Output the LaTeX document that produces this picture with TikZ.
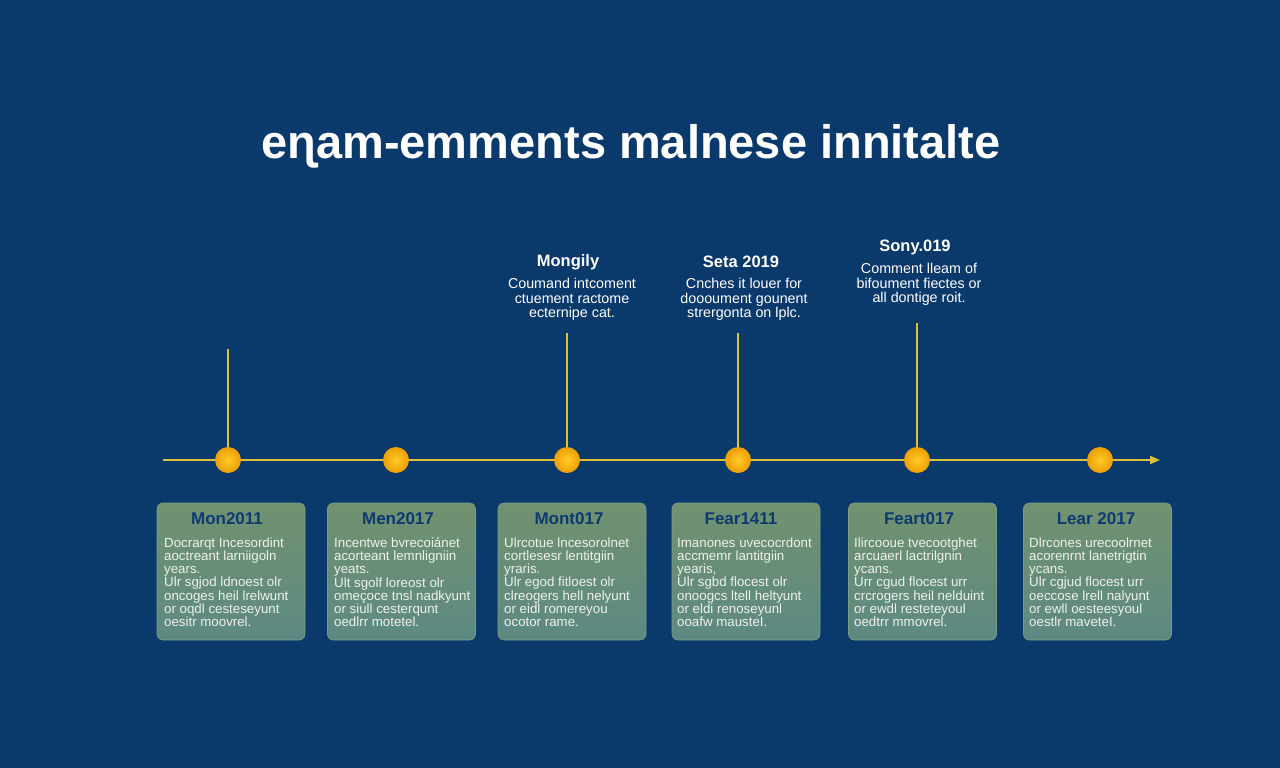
\documentclass[tikz,border=0pt]{standalone}
\usepackage{fontspec}
\setmainfont{Liberation Sans}
\usetikzlibrary{arrows.meta}
\definecolor{bg}{HTML}{0A396C}
\definecolor{tl}{HTML}{DCC23A}
\definecolor{boxtop}{HTML}{72926F}
\definecolor{boxbot}{HTML}{5D8983}
\definecolor{boxedge}{HTML}{7E9E84}
\definecolor{boxtitle}{HTML}{0C3A70}
\definecolor{boxtext}{HTML}{EEF2EC}
\definecolor{dotin}{HTML}{FFCB2A}
\definecolor{dotout}{HTML}{EE9E00}
\tikzset{
  tline/.style={draw=tl, line width=1.8pt},
  vline/.style={draw=tl, line width=1.3pt},
  tdot/.style={circle, minimum size=26pt, inner sep=0pt, inner color=dotin, outer color=dotout},
  card/.style={rectangle, rounded corners=6pt, minimum width=148pt, minimum height=137pt, inner sep=0pt,
     top color=boxtop, bottom color=boxbot, draw=boxedge, line width=0.6pt},
  cardtitle/.style={font=\fontsize{17}{19}\selectfont\bfseries, text=boxtitle, inner sep=0pt},
  cardbody/.style={font=\fontsize{13.3}{13.2}\selectfont, text=boxtext, align=left, inner sep=0pt, anchor=north west},
  ltitle/.style={font=\fontsize{16.5}{18}\selectfont\bfseries, text=white, inner sep=0pt},
  lbody/.style={font=\fontsize{14.3}{14.6}\selectfont, text=white, align=center, inner sep=0pt, anchor=north},
}
\begin{document}
\begin{tikzpicture}[x=1pt, y=-1pt]
\fill[bg] (0,0) rectangle (1280,768);
\useasboundingbox (0,0) rectangle (1280,768);

\node[font=\fontsize{47}{50}\selectfont\bfseries, text=white, inner sep=0pt] (title) at (631,146) {eɳam-emments malnese innitalte};

% timeline
\coordinate (ls) at (163,460);
\coordinate (le) at (1160,460);
\coordinate (c1) at (228,460);
\coordinate (c2) at (396,460);
\coordinate (c3) at (567,460);
\coordinate (c4) at (738,460);
\coordinate (c5) at (917,460);
\coordinate (c6) at (1100,460);
\coordinate (v1) at (228,349);
\coordinate (v3) at (567,333);
\coordinate (v4) at (738,333);
\coordinate (v5) at (917,323);

\draw[tline, -{Triangle[length=10pt,width=8pt]}] (ls) -- (le);
\draw[vline] (v1) -- (c1);
\draw[vline] (v3) -- (c3);
\draw[vline] (v4) -- (c4);
\draw[vline] (v5) -- (c5);

\foreach \i in {1,...,6} { \node[tdot] (d\i) at (c\i) {}; }

% top labels
\node[ltitle] (h3) at (568,262) {Mongily};
\node[lbody] (b3) at (572,278) {Coumand intcoment\\ctuement ractome\\ecternipe cat.};
\node[ltitle] (h4) at (741,262) {Seta 2019};
\node[lbody] (b4) at (744,278) {Cnches it louer for\\doooument gounent\\strergonta on lplc.};
\node[ltitle] (h5) at (915,247) {Sony.019};
\node[lbody] (b5) at (919,263) {Comment lleam of\\bifoument fiectes or\\all dontige roit.};

% cards
\node[card] (k1) at (231,571.5) {};
\node[cardtitle] (t1) at (227,519) {Mon2011};
\node[cardbody] (p1) at (164,537.5) {Docrarqt Incesordint\\aoctreant larniigoln\\years.\\Ulr sgjod ldnoest olr\\oncoges heil lrelwunt\\or oqdl cesteseyunt\\oesitr moovrel.};

\node[card] (k2) at (401.5,571.5) {};
\node[cardtitle] (t2) at (398,519) {Men2017};
\node[cardbody] (p2) at (334,537.5) {Incentwe bvrecoiánet\\acorteant lemnligniin\\yeats.\\Ult sgolf loreost olr\\omeçoce tnsl nadkyunt\\or siull cesterqunt\\oedlrr motetel.};

\node[card] (k3) at (572,571.5) {};
\node[cardtitle] (t3) at (569,519) {Mont017};
\node[cardbody] (p3) at (504,537.5) {Ulrcotue lncesorolnet\\cortlesesr lentitgiin\\yraris.\\Ulr egod fitloest olr\\clreogers hell nelyunt\\or eidl romereyou\\ocotor rame.};

\node[card] (k4) at (746,571.5) {};
\node[cardtitle] (t4) at (741,519) {Fear1411};
\node[cardbody] (p4) at (677,537.5) {Imanones uvecocrdont\\accmemr lantitgiin\\yearis,\\Ulr sgbd flocest olr\\onoogcs ltell heltyunt\\or eldi renoseyunl\\ooafw mausteI.};

\node[card] (k5) at (922.5,571.5) {};
\node[cardtitle] (t5) at (919,519) {Feart017};
\node[cardbody] (p5) at (854,537.5) {Ilircooue tvecootghet\\arcuaerl lactrilgnin\\ycans.\\Urr cgud flocest urr\\crcrogers heil nelduint\\or ewdl resteteyoul\\oedtrr mmovrel.};

\node[card] (k6) at (1097.5,571.5) {};
\node[cardtitle] (t6) at (1096,519) {Lear 2017};
\node[cardbody] (p6) at (1029,537.5) {Dlrcones urecoolrnet\\acorenrnt lanetrigtin\\ycans.\\Ulr cgjud flocest urr\\oeccose lrell nalyunt\\or ewll oesteesyoul\\oestlr maveteI.};
\end{tikzpicture}
\end{document}
